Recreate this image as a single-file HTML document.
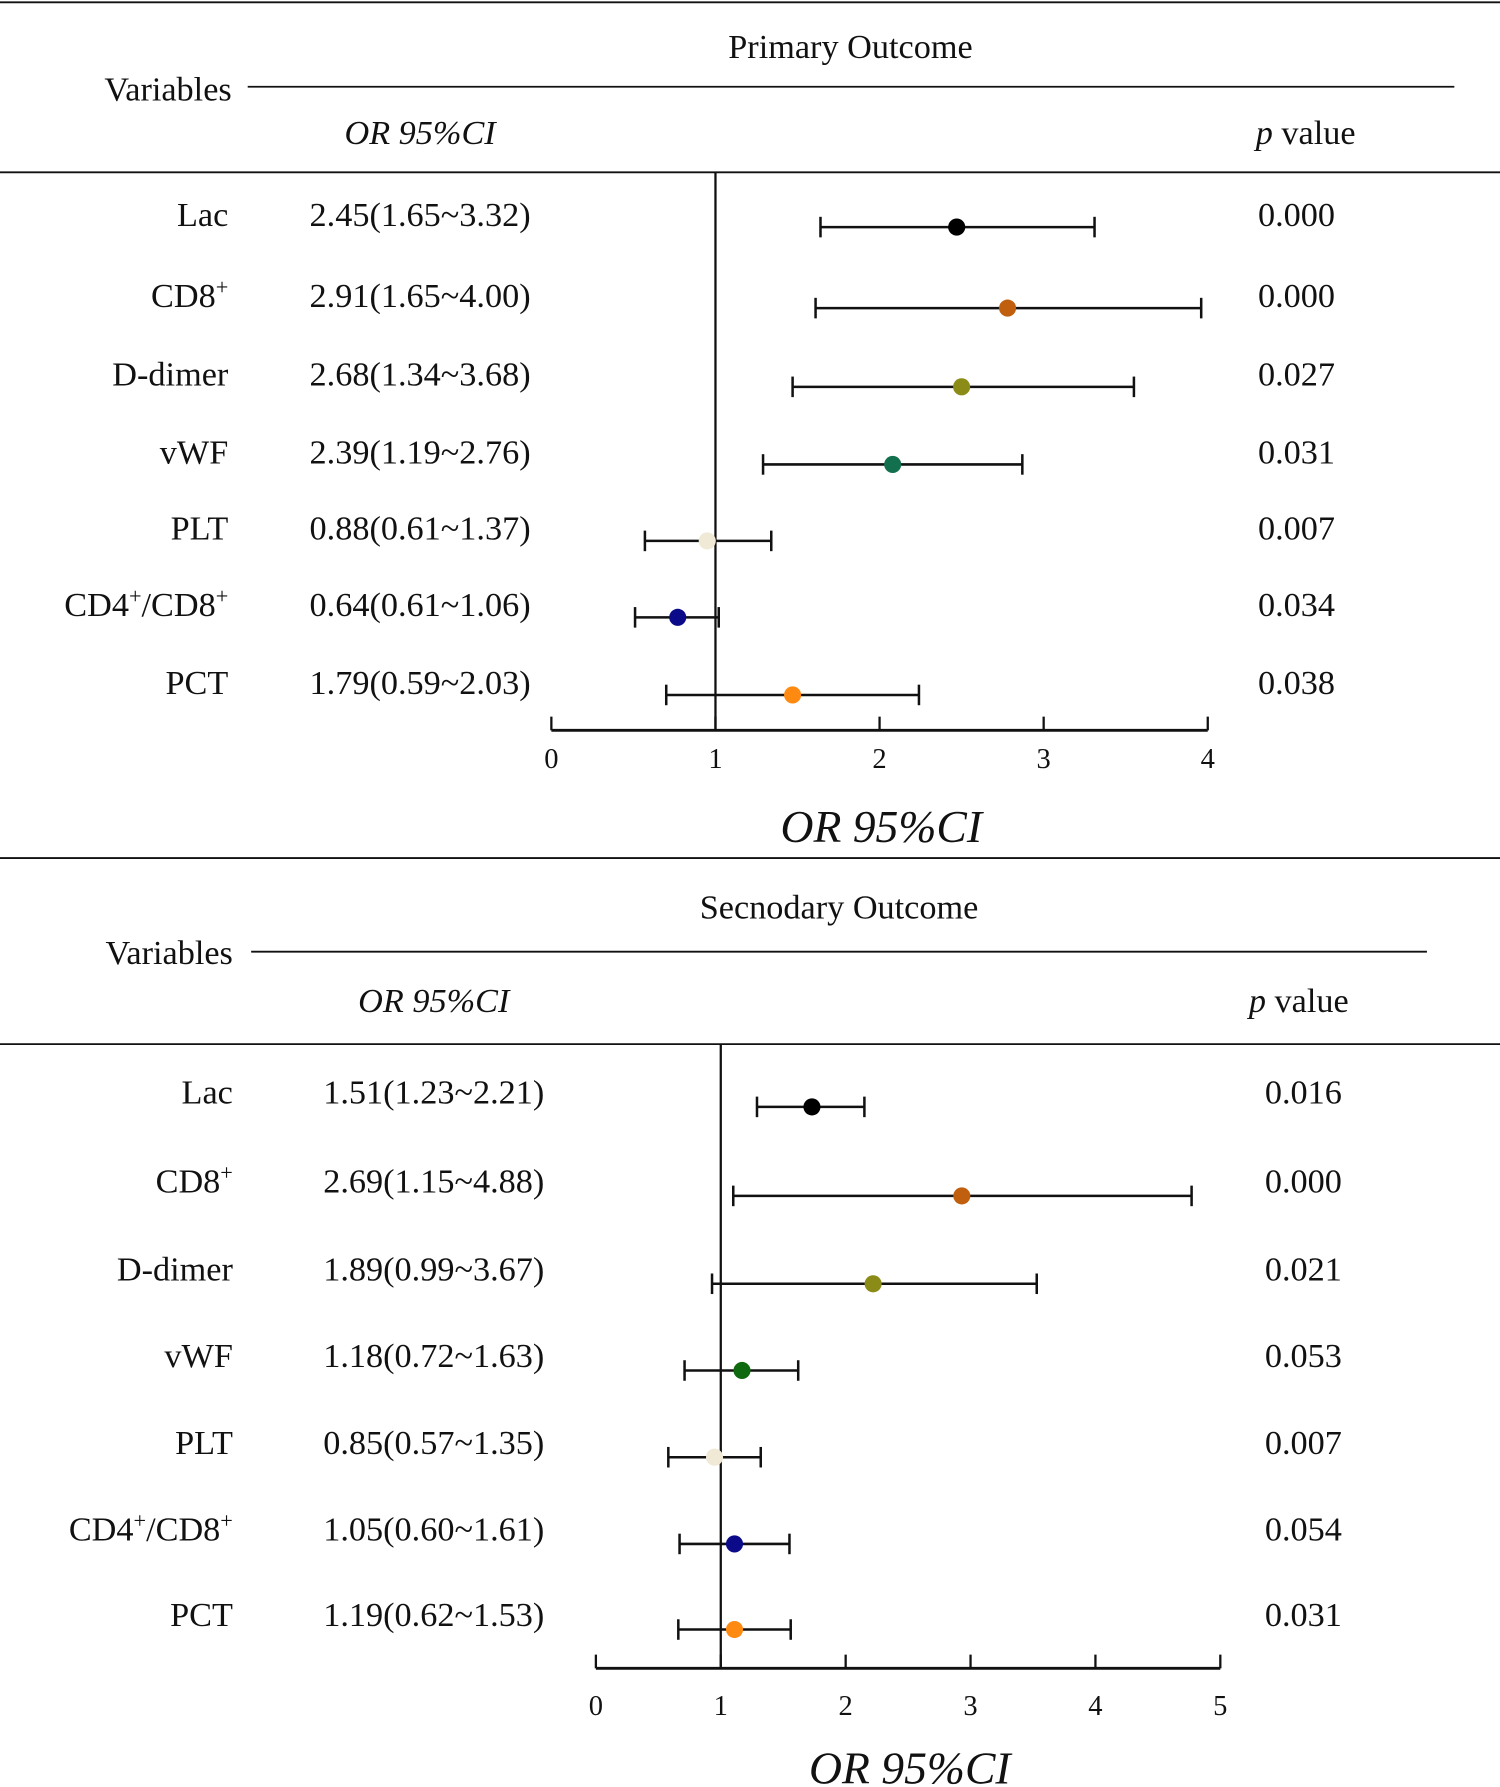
<!DOCTYPE html>
<html><head><meta charset="utf-8"><style>
html,body{margin:0;padding:0;background:#fff}
svg{display:block}
text{font-family:"Liberation Serif",serif;fill:#111}
</style></head><body>
<svg id="c" width="1500" height="1787" viewBox="0 0 1314 1566" preserveAspectRatio="none" xmlns="http://www.w3.org/2000/svg"></svg>
<script>
const categories = ["Lac","CD8+","D-dimer","vWF","PLT","CD4+/CD8+","PCT"];
const colors = ["#000000","#c0600f","#8b8b17","#13704e","#efe9d6","#0b0b8a","#ff8a12"];
const colors2 = ["#000000","#c0600f","#8b8b17","#0f6a0f","#efe9d6","#0b0b8a","#ff8a12"];
const primaryText = ["2.45(1.65~3.32)","2.91(1.65~4.00)","2.68(1.34~3.68)","2.39(1.19~2.76)","0.88(0.61~1.37)","0.64(0.61~1.06)","1.79(0.59~2.03)"];
const primaryP = ["0.000","0.000","0.027","0.031","0.007","0.034","0.038"];
const primaryPoint = [2.47,2.78,2.50,2.08,0.95,0.77,1.47];
const primaryLow = [1.64,1.61,1.47,1.29,0.57,0.51,0.70];
const primaryHigh = [3.31,3.96,3.55,2.87,1.34,1.02,2.24];
const primaryTicks = [0,1,2,3,4];
const secondaryText = ["1.51(1.23~2.21)","2.69(1.15~4.88)","1.89(0.99~3.67)","1.18(0.72~1.63)","0.85(0.57~1.35)","1.05(0.60~1.61)","1.19(0.62~1.53)"];
const secondaryP = ["0.016","0.000","0.021","0.053","0.007","0.054","0.031"];
const secondaryPoint = [1.73,2.93,2.22,1.17,0.95,1.11,1.11];
const secondaryLow = [1.29,1.10,0.93,0.71,0.58,0.67,0.66];
const secondaryHigh = [2.15,4.77,3.53,1.62,1.32,1.55,1.56];
const secondaryTicks = [0,1,2,3,4,5];

const svg = document.getElementById('c');
const NS = "http://www.w3.org/2000/svg";
const FS = 30;
function el(tag, attrs, parent){
  const e = document.createElementNS(NS, tag);
  for (const k in attrs) e.setAttribute(k, attrs[k]);
  (parent||svg).appendChild(e);
  return e;
}
function txt(s, x, y, size, anchor, parent, italic){
  const t = el('text', {x:x, y:y, 'font-size':size, 'text-anchor':anchor||'start'}, parent);
  if (italic) t.setAttribute('font-style','italic');
  t.textContent = s;
  return t;
}
function label(parent, name, x, y, anchor, size){
  const t = el('text', {x:x, y:y, 'font-size':size, 'text-anchor':anchor}, parent);
  const parts = name.split('+');
  parts.forEach((p,i)=>{
    if (p) { const s = document.createElementNS(NS,'tspan'); s.textContent = p; t.appendChild(s); }
    if (i < parts.length-1) {
      const s = document.createElementNS(NS,'tspan');
      s.setAttribute('dy','-11'); s.setAttribute('font-size', size*0.65); s.textContent = '+';
      t.appendChild(s);
      const r = document.createElementNS(NS,'tspan'); r.setAttribute('dy','11'); r.textContent = '\u200b'; t.appendChild(r);
    }
  });
  return t;
}

function panel(cfg){
  const g = el('g', {});
  
  
  const ln = (x1,y1,x2,y2,w,n)=>{ const l = el('line',{x1,y1,x2,y2,stroke:'#111','stroke-width':w},g);   return l; };
  ln(0,cfg.topLine,1314,cfg.topLine,1.6,'top-rule');
  let t = txt(cfg.title, cfg.titleX, cfg.titleY, FS, 'middle', g);
   
  t = txt('Variables', cfg.varX, cfg.varY, FS, 'end', g);
   
  ln(cfg.subLineX1, cfg.subLineY, cfg.subLineX2, cfg.subLineY, 1.6, 'header-rule');
  t = txt('OR 95%CI', cfg.orX, cfg.hdrY, FS, 'middle', g, true);
   
  t = el('text',{x:cfg.pX,y:cfg.hdrY,'font-size':FS},g);
  t.innerHTML = '<tspan font-style="italic">p</tspan> value';
   
  ln(0,cfg.midLine,1314,cfg.midLine,1.6,'body-rule');
  const xs = v => cfg.x0 + (v - cfg.ticks[0])/(cfg.ticks[cfg.ticks.length-1]-cfg.ticks[0])*(cfg.x1-cfg.x0);
  ln(xs(1), cfg.midLine, xs(1), cfg.axisY, 2, 'reference-line-or-1');
  ln(cfg.x0, cfg.axisY, cfg.x1, cfg.axisY, 2.5, 'x-axis');
  cfg.ticks.forEach(v=>{
    ln(xs(v), cfg.axisY, xs(v), cfg.axisY-12, 2, 'x-tick');
    const tl = txt(String(v), xs(v), cfg.tickY, 25, 'middle', g);
     
  });
  t = txt('OR 95%CI', cfg.axTitleX, cfg.axTitleY, 40, 'middle', g, true);
   
  categories.forEach((c,i)=>{
    const y = cfg.rowY[i];
    const lb = label(g, c, cfg.labelX, y+10, 'end', FS);
     
    const ct = txt(cfg.text[i], cfg.orX, y+10, FS, 'middle', g);
     
    const pt = txt(cfg.p[i], cfg.pValX, y+10, FS, 'start', g);
     
    const py = y + cfg.markOff;
    ln(xs(cfg.low[i]), py, xs(cfg.high[i]), py, 2.2, 'ci-line');
    ln(xs(cfg.low[i]), py-9, xs(cfg.low[i]), py+9, 2.2, 'ci-cap-low');
    ln(xs(cfg.high[i]), py-9, xs(cfg.high[i]), py+9, 2.2, 'ci-cap-high');
    const dot = el('circle',{cx:xs(cfg.pt[i]), cy:py, r:7.5, fill:cfg.colors[i]}, g);
    
    
  });
}

panel({name:'primary-outcome-panel', topLine:2, title:'Primary Outcome', titleX:745, titleY:51,
  varX:203, varY:88, subLineX1:217, subLineX2:1274, subLineY:76, orX:368, hdrY:126, pX:1100, pValX:1102,
  midLine:151, x0:483, x1:1058, axisY:640, tickY:673, ticks:primaryTicks, axTitleX:772, axTitleY:738,
  labelX:200, rowY:[188,259,328,396,463,530,598], markOff:11,
  text:primaryText, p:primaryP, pt:primaryPoint, low:primaryLow, high:primaryHigh, colors:colors});
(function(){ const l = el('line',{x1:0,y1:752,x2:1314,y2:752,stroke:'#111','stroke-width':1.6});
  })();
panel({name:'secondary-outcome-panel', topLine:752, title:'Secnodary Outcome', titleX:735, titleY:805,
  varX:204, varY:845, subLineX1:220, subLineX2:1250, subLineY:834, orX:380, hdrY:887, pX:1094, pValX:1108,
  midLine:915, x0:522, x1:1069, axisY:1462, tickY:1503, ticks:secondaryTicks, axTitleX:797, axTitleY:1563,
  labelX:204, rowY:[957,1035,1112,1188,1264,1340,1415], markOff:13,
  text:secondaryText, p:secondaryP, pt:secondaryPoint, low:secondaryLow, high:secondaryHigh, colors:colors2});
</script>
</body></html>
